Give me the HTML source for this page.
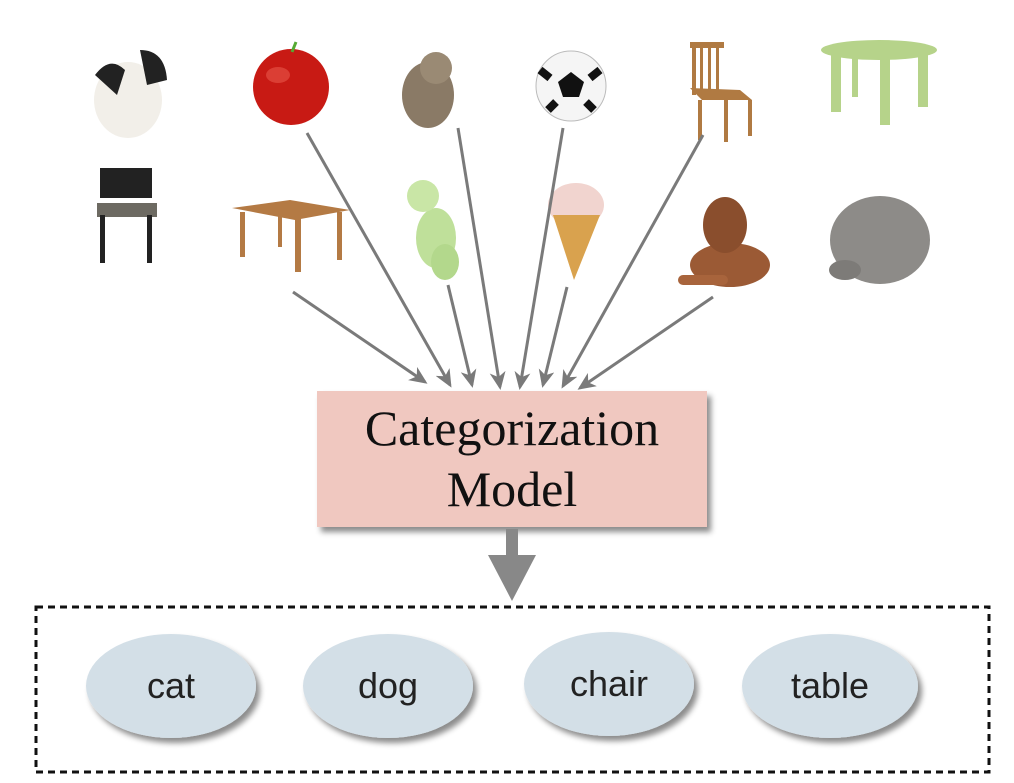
<!DOCTYPE html>
<html><head><meta charset="utf-8"><style>body{margin:0;background:#fff}svg{display:block}</style></head><body>
<svg width="1014" height="783" viewBox="0 0 1014 783" xmlns="http://www.w3.org/2000/svg">
<defs>
<marker id="ah" markerWidth="18" markerHeight="16" refX="15" refY="8" orient="auto" markerUnits="userSpaceOnUse"><path d="M0,0 L18,8 L0,16 L5,8 Z" fill="#7a7a7a"/></marker>
<filter id="sh" x="-20%" y="-20%" width="150%" height="150%"><feDropShadow dx="4" dy="5" stdDeviation="3" flood-color="#000" flood-opacity="0.45"/></filter>
</defs>
<g>
<ellipse cx="128" cy="100" rx="34" ry="38" fill="#f2efe9"/><path d="M95,75 q15,-20 30,-5 l-8,25 z" fill="#222"/><path d="M140,50 q25,0 27,30 l-20,5 z" fill="#222"/>
<circle cx="291" cy="87" r="38" fill="#c81a14"/><ellipse cx="278" cy="75" rx="12" ry="8" fill="#e8574a" opacity=".6"/><path d="M292,52 l4,-10" stroke="#5a3" stroke-width="3"/>
<ellipse cx="428" cy="95" rx="26" ry="33" fill="#8a7a66"/><ellipse cx="436" cy="68" rx="16" ry="16" fill="#9a8a74"/>
<circle cx="571" cy="86" r="35" fill="#f5f5f5" stroke="#bbb"/><polygon points="571,72 584,82 579,97 563,97 558,82" fill="#111"/><path d="M540,70 l10,8 M600,70 l-10,8 M548,110 l8,-8 M594,110 l-8,-8" stroke="#111" stroke-width="8"/>
<g fill="#b07a42"><rect x="690" y="42" width="34" height="6"/><rect x="692" y="45" width="4" height="50"/><rect x="700" y="45" width="3" height="45"/><rect x="708" y="45" width="3" height="45"/><rect x="716" y="45" width="3" height="45"/><polygon points="690,88 740,90 752,100 702,100"/><rect x="698" y="100" width="4" height="40"/><rect x="724" y="100" width="4" height="42"/><rect x="748" y="100" width="4" height="36"/></g>
<g fill="#b6d38a"><ellipse cx="879" cy="50" rx="58" ry="10"/><rect x="831" y="52" width="10" height="60"/><rect x="880" y="55" width="10" height="70"/><rect x="918" y="52" width="10" height="55"/><rect x="852" y="52" width="6" height="45"/></g>
<g fill="#222"><rect x="100" y="168" width="52" height="30"/><rect x="97" y="203" width="60" height="14" fill="#6d6a62"/><rect x="100" y="215" width="5" height="48"/><rect x="147" y="215" width="5" height="48"/></g>
<g fill="#b47a44"><polygon points="232,208 290,200 350,210 295,220"/><rect x="240" y="212" width="5" height="45"/><rect x="295" y="218" width="6" height="54"/><rect x="337" y="212" width="5" height="48"/><rect x="278" y="212" width="4" height="35"/></g>
<ellipse cx="436" cy="238" rx="20" ry="30" fill="#bfe09a"/><circle cx="423" cy="196" r="16" fill="#c9e6a6"/><ellipse cx="445" cy="262" rx="14" ry="18" fill="#b3d88c"/>
<ellipse cx="576" cy="205" rx="28" ry="22" fill="#f1d4cf"/><polygon points="553,215 600,215 574,280" fill="#d9a24e"/>
<ellipse cx="730" cy="265" rx="40" ry="22" fill="#9b5a35"/><ellipse cx="725" cy="225" rx="22" ry="28" fill="#8a4e2d"/><rect x="678" y="275" width="50" height="10" rx="5" fill="#a8643c"/>
<ellipse cx="880" cy="240" rx="50" ry="44" fill="#8d8b88"/><ellipse cx="845" cy="270" rx="16" ry="10" fill="#7d7b78"/>
</g>
<g stroke="#7a7a7a" stroke-width="3" fill="none" marker-end="url(#ah)">
<line x1="293" y1="292" x2="425" y2="382"/>
<line x1="307" y1="133" x2="450" y2="385"/>
<line x1="448" y1="285" x2="472" y2="385"/>
<line x1="458" y1="128" x2="500" y2="387"/>
<line x1="563" y1="128" x2="520" y2="387"/>
<line x1="567" y1="287" x2="543" y2="385"/>
<line x1="703" y1="135" x2="563" y2="386"/>
<line x1="713" y1="297" x2="580" y2="388"/>
</g>
<rect x="317" y="391" width="390" height="136" fill="#f0c8c0" filter="url(#sh)"/>
<text x="512" y="445" text-anchor="middle" font-family="Liberation Serif, serif" font-size="50" fill="#111">Categorization</text>
<text x="512" y="506" text-anchor="middle" font-family="Liberation Serif, serif" font-size="50" fill="#111">Model</text>
<rect x="506" y="529" width="12" height="28" fill="#888"/>
<polygon points="488,555 536,555 512,601" fill="#888"/>
<rect x="36" y="607" width="953" height="165" fill="none" stroke="#111" stroke-width="3" stroke-dasharray="7,5"/>
<g filter="url(#sh)" fill="#d3dfe7">
<ellipse cx="171" cy="686" rx="85" ry="52"/>
<ellipse cx="388" cy="686" rx="85" ry="52"/>
<ellipse cx="609" cy="684" rx="85" ry="52"/>
<ellipse cx="830" cy="686" rx="88" ry="52"/>
</g>
<g font-family="Liberation Sans, sans-serif" font-size="36" fill="#222" text-anchor="middle">
<text x="171" y="698">cat</text><text x="388" y="698">dog</text><text x="609" y="696">chair</text><text x="830" y="698">table</text>
</g>
</svg>
</body></html>
